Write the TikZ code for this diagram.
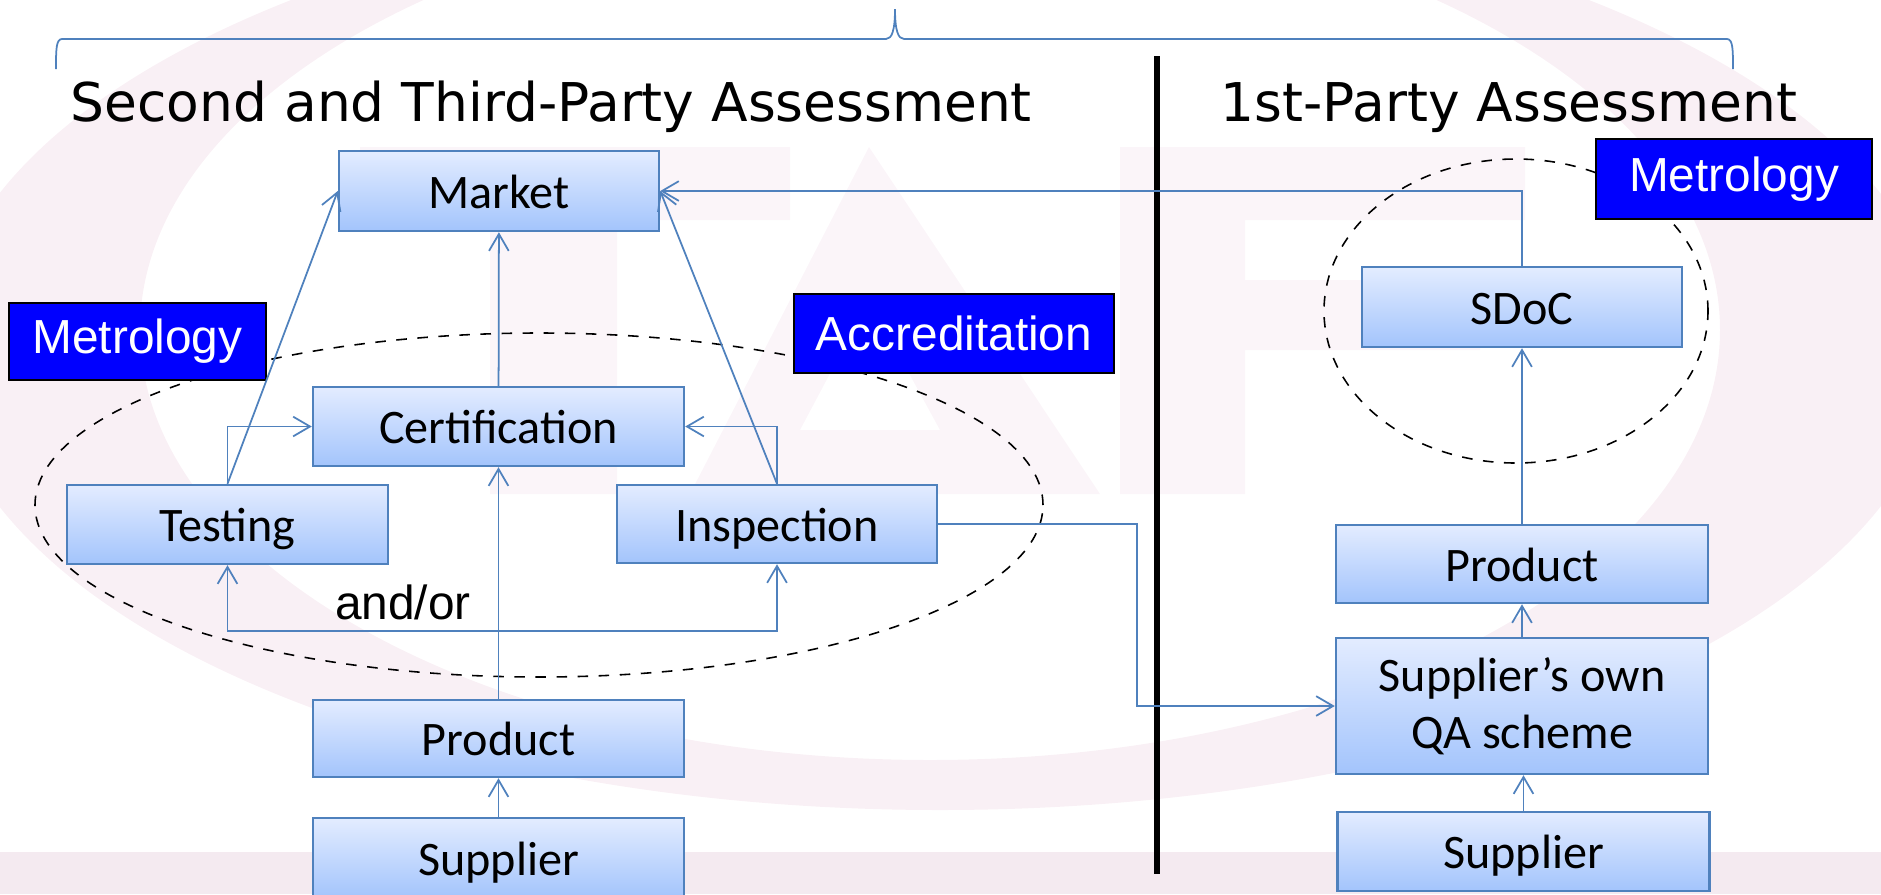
\documentclass[tikz,border=0pt]{standalone}
\usepackage{fontspec}
\setmainfont{Carlito}
\newfontfamily\headfont{DejaVu Sans}
\newfontfamily\tagfont{Liberation Sans}
\usepackage{tikz}
\usetikzlibrary{arrows.meta,shapes.geometric}
\definecolor{boxline}{HTML}{4F81BD}
\definecolor{boxtop}{HTML}{E3ECFF}
\definecolor{boxbottom}{HTML}{A3C4FC}
\definecolor{logotint}{HTML}{FBF5F9}
\definecolor{ringtint}{HTML}{F9F0F5}
\definecolor{bandtint}{HTML}{F4EAF0}
\definecolor{tagblue}{HTML}{0000FF}
\tikzset{
  stagebase/.style={draw=boxline, line width=0.7pt, top color=boxtop, bottom color=boxbottom,
    inner sep=0pt, align=center, font=\fontsize{13.7}{16.3}\selectfont},
  stage/.style={stagebase, text height=9.8pt, text depth=0pt},
  tag/.style={draw=black, line width=0.7pt, fill=tagblue, text=white, inner sep=0pt,
    font=\tagfont\fontsize{13.6}{16}\selectfont},
  link/.style={draw=boxline, line width=0.5pt},
  scopering/.style={draw=black, dashed, line width=0.45pt, ellipse, inner sep=0pt},
  heading/.style={anchor=base west, inner sep=0pt, font=\headfont\fontsize{15.2}{18}\selectfont},
}

\begin{document}
\begin{tikzpicture}[>={Straight Barb[length=4.8pt,width=5.6pt]}]
    \clip (0, 0) rectangle (18.81, -8.94);

    % faint logo behind everything
    \fill[ringtint, even odd rule] (9.4, -3.5) ellipse (10 and 4.6) (9.3, -3.3) ellipse (7.9 and 4.3);
    \fill[logotint] (3.6, -1.47) -- (7.9, -1.47) -- (7.9, -2.2) -- (6.17, -2.2) -- (6.17, -4.94)
        -- (4.9, -4.94) -- (4.9, -2.2) -- (3.6, -2.2) -- cycle;
    \fill[logotint, even odd rule] (8.69, -1.47) -- (11, -4.94) -- (6.9, -4.94) -- cycle
        (8.69, -3.0) -- (9.4, -4.3) -- (8, -4.3) -- cycle;
    \fill[logotint] (11.2, -1.47) -- (15.25, -1.47) -- (15.25, -2.2) -- (12.45, -2.2) -- (12.45, -2.8)
        -- (14.8, -2.8) -- (14.8, -3.5) -- (12.45, -3.5) -- (12.45, -4.94) -- (11.2, -4.94) -- cycle;
    \fill[bandtint] (0, -8.52) rectangle (18.81, -8.94);

    % dashed scopes
    \node[scopering, minimum width=10.08cm, minimum height=3.44cm] (scopeA) at (5.39, -5.05) {};
    \node[scopering, minimum width=3.84cm, minimum height=3.04cm] (scopeB) at (15.16, -3.11) {};

    % divider and brace
    \coordinate (dividerTop) at (11.57, -0.56);
    \coordinate (dividerEnd) at (11.57, -8.74);
    \draw[line width=1.7pt] (dividerTop) -- (dividerEnd);
    \draw[boxline, line width=0.5pt] (0.56, -0.69) .. controls (0.56, -0.5) and (0.56, -0.39) .. (0.62, -0.39)
        -- (8.86, -0.39) .. controls (8.92, -0.39) and (8.95, -0.3) .. (8.95, -0.09)
        .. controls (8.95, -0.3) and (8.98, -0.39) .. (9.04, -0.39)
        -- (17.27, -0.39) .. controls (17.33, -0.39) and (17.33, -0.5) .. (17.33, -0.69);

    \node[heading] (headA) at (0.70, -1.215) {Second and Third-Party Assessment};
    \node[heading] (headB) at (12.20, -1.215) {1st-Party Assessment};

    % left side boxes
    \node[stage, minimum width=3.2cm, minimum height=0.8cm] (market) at (4.99, -1.91) {Market};
    \node[stage, minimum width=3.71cm, minimum height=0.79cm] (cert) at (4.985, -4.265) {Certification};
    \node[stage, minimum width=3.21cm, minimum height=0.79cm] (testing) at (2.275, -5.245) {Testing};
    \node[stage, minimum width=3.2cm, minimum height=0.78cm] (inspection) at (7.77, -5.24) {Inspection};
    \node[stage, minimum width=3.71cm, minimum height=0.77cm] (productA) at (4.985, -7.385) {Product};
    \node[stage, minimum width=3.71cm, minimum height=0.8cm] (supplierA) at (4.985, -8.58) {Supplier};

    % right side boxes
    \node[stage, minimum width=3.2cm, minimum height=0.8cm] (sdoc) at (15.22, -3.07) {SDoC};
    \node[stage, minimum width=3.72cm, minimum height=0.78cm] (productB) at (15.22, -5.64) {Product};
    \node[stagebase, minimum width=3.72cm, minimum height=1.36cm] (scheme) at (15.22, -7.06) {Supplier’s own\\QA scheme};
    \node[stage, minimum width=3.72cm, minimum height=0.79cm] (supplierB) at (15.235, -8.515) {Supplier};

    % labels in blue
    \node[tag, minimum width=2.57cm, minimum height=0.77cm] (metroA) at (1.375, -3.415) {Metrology};
    \node[tag, minimum width=3.2cm, minimum height=0.79cm] (accred) at (9.54, -3.335) {Accreditation};
    \node[tag, minimum width=2.76cm, minimum height=0.8cm] (metroB) at (17.34, -1.79) {Metrology};

    \node[inner sep=0pt, font=\tagfont\fontsize{13.6}{16}\selectfont] (andor) at (4.03, -6.02) {and/or};

    \coordinate (split) at (4.985, -6.31);
    \coordinate (bend) at (11.37, -6.0);

    \draw[link, ->] (cert) -- (market);
    \draw[link, ->] (testing.north) -- (market.west);
    \draw[link, ->] (inspection.north) -- (market.east);
    \draw[link, ->] (testing.north) |- (cert.west);
    \draw[link, ->] (inspection.north) |- (cert.east);
    \draw[link, ->] (productA) -- (cert);
    \draw[link, ->] (split) -| (testing.south);
    \draw[link, ->] (split) -| (inspection.south);
    \draw[link, ->] (supplierA) -- (productA);
    \draw[link, ->] (sdoc.north) |- (market.east);
    \draw[link, ->] (productB) -- (sdoc);
    \draw[link, ->] (scheme) -- (productB);
    \draw[link, ->] (supplierB.north) -- (scheme.south -| supplierB.north);
    \draw[link, ->] (inspection.east) -| (bend) |- (scheme.west);
\end{tikzpicture}
\end{document}
